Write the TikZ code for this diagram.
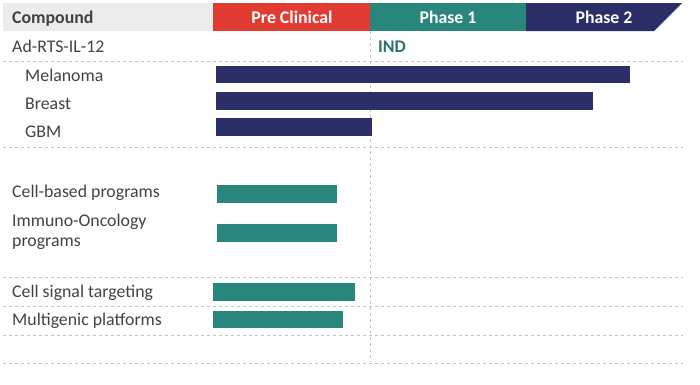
\documentclass[tikz,border=0pt]{standalone}
\usepackage{fontspec}
\setmainfont{Carlito}
\usetikzlibrary{calc}
\definecolor{pcred}{RGB}{226,60,50}
\definecolor{phteal}{RGB}{40,134,124}
\definecolor{phnavy}{RGB}{44,46,104}
\definecolor{hdgrey}{RGB}{236,236,236}
\definecolor{txtgrey}{RGB}{66,66,66}
\definecolor{indteal}{RGB}{46,112,112}
\definecolor{gridgrey}{RGB}{196,196,196}

\begin{document}
\begin{tikzpicture}[x=1pt,y=-1pt,font=\fontsize{17.8}{20.7}\selectfont,
	lbl/.style={anchor=base west,text=txtgrey,inner sep=0pt,align=left},
	hdr/.style={anchor=base,text=white,inner sep=0pt,font=\fontsize{17.8}{20.7}\selectfont\bfseries},
	grid/.style={gridgrey,dashed,line width=0.6pt}]
	\useasboundingbox (0,0) rectangle (700,384);
	% header band
	\fill[hdgrey] (3,3) rectangle (213,31);
	\fill[pcred] (213,3) rectangle (370,31);
	\fill[phteal] (370,3) rectangle (526,31);
	\fill[phnavy] (526,3) -- (682,3) -- (654,31) -- (526,31) -- cycle;
	\node[lbl,font=\fontsize{17.8}{20.7}\selectfont\bfseries] (cmp) at (12,23.3) {Compound};
	\node[hdr] (precl) at (292,23.3) {Pre Clinical};
	\node[hdr] (ph1) at (448,23.3) {Phase 1};
	\node[hdr] (ph2) at (604,23.3) {Phase 2};
	% row separators
	\foreach \y in {61,147,277,306,335,363}{ %dashed rows
		\draw[grid] (3,\y) -- (683,\y);
	}
	% IND line
	\coordinate (indtop) at (370,31);
	\coordinate (indbot) at (370,362);
	\draw[grid] (indtop) -- (indbot);
	\node[lbl,text=indteal,font=\fontsize{17.8}{20.7}\selectfont\bfseries] (ind) at (378,52.7) {IND};
	% labels
	\node[lbl] (adrts) at (12,52.7) {Ad-RTS-IL-12};
	\node[lbl] (mel) at (25,81.7) {Melanoma};
	\node[lbl] (brs) at (25,109.3) {Breast};
	\node[lbl] (gbm) at (25,137.7) {GBM};
	\node[lbl] (cellb) at (12,197.3) {Cell-based programs};
	\node[lbl] (immuno) at (12,246.7) {Immuno-Oncology\\programs};
	\node[lbl] (signal) at (12,297.7) {Cell signal targeting};
	\node[lbl] (multi) at (12,325.7) {Multigenic platforms};
	% bars
	\foreach \xa/\xb/\ya/\yb/\c in {216/630/65.7/83.3/phnavy, 216/593/92.3/110/phnavy, 216/372/117.7/136/phnavy,
		217/337/185/203.3/phteal, 217/337/224/241.7/phteal, 213/355/283.3/301/phteal, 213/343/310.7/328.3/phteal}{ %stage bars
		\fill[\c] (\xa,\ya) rectangle (\xb,\yb);
	}
\end{tikzpicture}
\end{document}
